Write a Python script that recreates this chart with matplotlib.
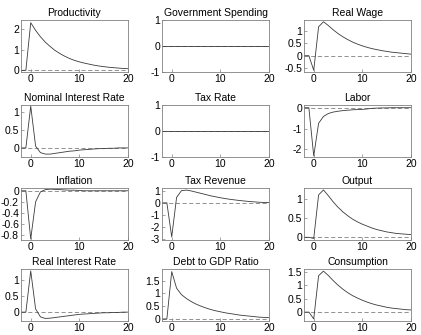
import matplotlib
matplotlib.use("Agg")
import matplotlib.pyplot as plt
import numpy as np

plt.rcParams["font.family"] = ["Liberation Sans", "DejaVu Sans"]
plt.rcParams["font.size"] = 8
plt.rcParams["axes.unicode_minus"] = False

periods = list(range(-2, 21))

productivity = [0, 0, 2.30, 1.93, 1.62, 1.36, 1.15, 0.96, 0.81, 0.68, 0.57, 0.48,
                0.41, 0.35, 0.30, 0.25, 0.21, 0.18, 0.15, 0.13, 0.11, 0.09, 0.08]
gov_spending = [0] * 23
real_wage = [0, 0, -0.58, 1.15, 1.35, 1.20, 1.03, 0.88, 0.75, 0.64, 0.54, 0.46,
             0.39, 0.33, 0.28, 0.24, 0.20, 0.17, 0.14, 0.12, 0.10, 0.08, 0.06]
nominal_rate = [0, 0, 1.15, 0.05, -0.13, -0.17, -0.17, -0.15, -0.13, -0.11, -0.09, -0.08,
                -0.06, -0.05, -0.04, -0.03, -0.02, -0.02, -0.01, -0.01, 0, 0, 0]
tax_rate = [0] * 23
labor = [0, 0, -2.32, -0.75, -0.42, -0.28, -0.21, -0.17, -0.14, -0.12, -0.10, -0.09,
         -0.08, -0.06, -0.03, -0.02, -0.01, -0.01, 0, 0, 0, 0, 0]
inflation = [0, 0, -0.87, -0.20, -0.02, 0.02, 0.03, 0.025, 0.02, 0.015, 0.01, 0.01,
             0.005, 0, 0, 0, 0, 0, 0, 0, 0, 0, 0]
tax_revenue = [0, 0, -2.80, 0.45, 1.00, 1.05, 0.98, 0.88, 0.78, 0.68, 0.58, 0.50,
               0.42, 0.35, 0.29, 0.24, 0.19, 0.15, 0.11, 0.08, 0.05, 0.03, 0.02]
output = [0, 0, -0.03, 1.10, 1.23, 1.08, 0.92, 0.78, 0.66, 0.56, 0.47, 0.40,
          0.34, 0.29, 0.24, 0.20, 0.17, 0.14, 0.12, 0.10, 0.09, 0.08, 0.07]
real_rate = [0, 0, 1.30, 0.10, -0.15, -0.20, -0.19, -0.17, -0.15, -0.13, -0.11, -0.09,
             -0.07, -0.06, -0.05, -0.04, -0.03, -0.02, -0.02, -0.01, -0.01, 0, 0]
debt_gdp = [0, 0, 1.85, 1.20, 0.95, 0.80, 0.68, 0.58, 0.50, 0.43, 0.37, 0.32,
            0.28, 0.24, 0.21, 0.18, 0.15, 0.13, 0.11, 0.09, 0.07, 0.06, 0.05]
consumption = [0, 0, -0.25, 1.35, 1.52, 1.36, 1.17, 1.00, 0.85, 0.72, 0.61, 0.52,
               0.44, 0.37, 0.31, 0.26, 0.22, 0.18, 0.15, 0.13, 0.11, 0.09, 0.08]

titles = ["Productivity", "Government Spending", "Real Wage",
          "Nominal Interest Rate", "Tax Rate", "Labor",
          "Inflation", "Tax Revenue", "Output",
          "Real Interest Rate", "Debt to GDP Ratio", "Consumption"]
series = [productivity, gov_spending, real_wage,
          nominal_rate, tax_rate, labor,
          inflation, tax_revenue, output,
          real_rate, debt_gdp, consumption]
ylims = [(-0.08, 2.43), (-1, 1), (-0.65, 1.42),
         (-0.25, 1.18), (-1, 1), (-2.37, 0.13),
         (-0.89, 0.05), (-3.05, 1.22), (-0.07, 1.28),
         (-0.28, 1.36), (-0.08, 1.95), (-0.33, 1.6)]
yticks = [[0, 1, 2], [-1, 0, 1], [-0.5, 0, 0.5, 1],
          [0, 0.5, 1], [-1, 0, 1], [-2, -1, 0],
          [-0.8, -0.6, -0.4, -0.2, 0], [-3, -2, -1, 0, 1], [0, 0.5, 1],
          [0, 0.5, 1], [0, 0.5, 1, 1.5], [0, 0.5, 1, 1.5]]

W, H = 421, 335
fig = plt.figure(figsize=(W / 100, H / 100), dpi=100)

col_left = [21, 162, 304]
ax_w = 107
row_top = [20, 105, 188, 269]
ax_h = 52

for i, (title, y) in enumerate(zip(titles, series)):
    r, c = divmod(i, 3)
    ax = fig.add_axes([col_left[c] / W, 1 - (row_top[r] + ax_h) / H, ax_w / W, ax_h / H])
    ax.plot(periods, np.zeros(len(periods)), color="#808080", lw=0.6, dashes=(5, 3))
    ax.plot(periods, y, color="#3a3a3a", lw=0.6)
    ax.set_xlim(-2, 20)
    ax.set_ylim(*ylims[i])
    ax.set_xticks([0, 10, 20])
    ax.set_yticks(yticks[i])
    ax.set_yticklabels([f"{v:g}" for v in yticks[i]])
    ax.tick_params(direction="in", length=2, width=0.5, colors="#808080",
                   labelcolor="black", labelsize=7.5, pad=1.5)
    for s in ax.spines.values():
        s.set_color("#808080")
        s.set_linewidth(0.6)
    ax.set_title(title, fontsize=7.5, pad=3)

fig.savefig("out.png", dpi=100)
